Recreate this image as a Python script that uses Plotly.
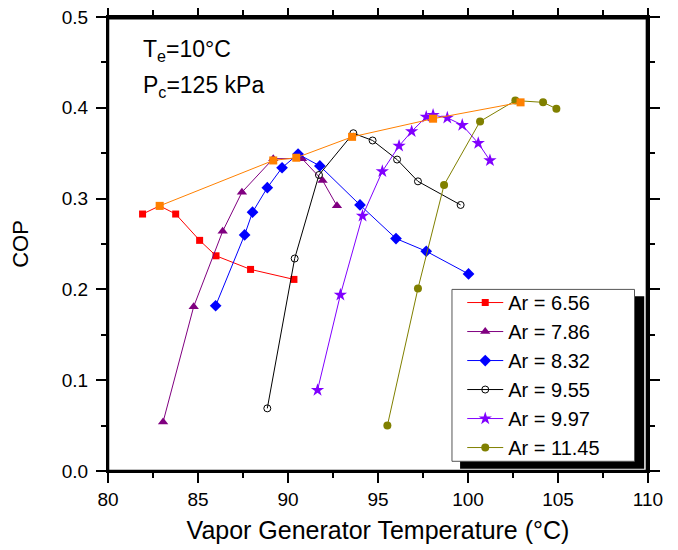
import plotly.graph_objects as go

# Data
x_656 = [81.92, 82.87, 83.76, 85.09, 86.00, 87.92, 90.33]
y_656 = [0.283, 0.292, 0.283, 0.254, 0.237, 0.222, 0.211]

x_786 = [83.06, 84.76, 86.37, 87.44, 89.18, 90.78, 91.92, 92.72]
y_786 = [0.054, 0.181, 0.264, 0.307, 0.344, 0.344, 0.320, 0.292]

x_832 = [85.98, 87.59, 88.03, 88.85, 89.67, 90.56, 91.77, 94.00, 96.00, 97.68, 100.03]
y_832 = [0.182, 0.260, 0.285, 0.312, 0.334, 0.349, 0.336, 0.293, 0.256, 0.242, 0.217]

x_955 = [88.85, 90.37, 91.72, 93.63, 94.70, 96.06, 97.22, 99.59]
y_955 = [0.069, 0.234, 0.326, 0.372, 0.364, 0.343, 0.319, 0.293]

x_997 = [91.64, 92.91, 94.14, 95.24, 96.17, 96.87, 97.68, 98.06, 98.85, 99.68, 100.57, 101.22]
y_997 = [0.089, 0.194, 0.281, 0.330, 0.358, 0.374, 0.390, 0.392, 0.389, 0.381, 0.361, 0.342]

x_1145 = [95.52, 97.22, 98.67, 100.67, 102.63, 104.17, 104.91]
y_1145 = [0.050, 0.201, 0.315, 0.385, 0.408, 0.406, 0.399]

x_max = [82.87, 89.18, 90.46, 93.56, 98.06, 102.92]
y_max = [0.292, 0.342, 0.345, 0.368, 0.388, 0.406]

x_ticks = [80, 85, 90, 95, 100, 105, 110]
y_ticks = [0.0, 0.1, 0.2, 0.3, 0.4, 0.5]

series = [
    ("Ar = 6.56", x_656, y_656, "#FF0000", "square", 7),
    ("Ar = 7.86", x_786, y_786, "#800080", "triangle-up", 9),
    ("Ar = 8.32", x_832, y_832, "#0000FF", "diamond", 9),
    ("Ar = 9.55", x_955, y_955, "#000000", "circle-open", 7),
    ("Ar = 9.97", x_997, y_997, "#8000FF", "star", 10),
    ("Ar = 11.45", x_1145, y_1145, "#808000", "circle", 8),
]

FONT = "Liberation Sans, Arial, sans-serif"

fig = go.Figure()
for name, xs, ys, col, sym, sz in series:
    fig.add_trace(go.Scatter(
        x=xs, y=ys, name=name, mode="lines+markers",
        line=dict(color=col, width=1),
        marker=dict(symbol=sym, size=sz, color=col,
                    line=dict(width=1, color=col) if sym == "circle-open" else dict(width=0)),
    ))

fig.add_trace(go.Scatter(
    x=x_max, y=y_max, mode="lines+markers", showlegend=False,
    line=dict(color="#FF8000", width=1),
    marker=dict(symbol="square", size=8, color="#FF8000"),
))

axis_common = dict(
    showgrid=False, zeroline=False, showline=True, linecolor="black",
    linewidth=2, mirror="allticks", ticks="outside", ticklen=10, tickwidth=2,
    tickcolor="black", tickfont=dict(family=FONT, size=19, color="black"),
    automargin=False, ticklabeloverflow="allow",
)

fig.update_xaxes(
    range=[80, 110], tickvals=x_ticks, ticktext=[str(v) for v in x_ticks],
    minor=dict(ticks="outside", ticklen=5, tickwidth=2, tickcolor="black", dtick=2.5),
    title=dict(text="Vapor Generator Temperature (°C)",
               font=dict(family=FONT, size=25, color="black"), standoff=13),
    ticklabelstandoff=0,
    **axis_common,
)
fig.update_yaxes(
    range=[0, 0.5], tickvals=y_ticks, ticktext=[f"{v:.1f}" for v in y_ticks],
    minor=dict(ticks="outside", ticklen=5, tickwidth=2, tickcolor="black", dtick=0.05),
    title=dict(text="COP", font=dict(family=FONT, size=22, color="black"), standoff=37),
    ticklabelstandoff=4,
    **axis_common,
)

# legend shadow and box
fig.add_shape(type="rect", xref="paper", yref="paper",
              x0=0.652, x1=0.993, y0=0.005, y1=0.385,
              fillcolor="black", line=dict(width=0), layer="below")
fig.add_shape(type="rect", xref="paper", yref="paper",
              x0=0.637, x1=0.975, y0=0.0214, y1=0.400,
              fillcolor="white", line=dict(width=1, color="#555555"), layer="below")
# plot frame: top and right edges (slightly inset)
fig.add_shape(type="rect", xref="paper", yref="paper", x0=0.0, x1=0.998, y0=0.0, y1=0.997,
              fillcolor="rgba(0,0,0,0)", line=dict(width=2.5, color="black"), layer="above")

fig.add_annotation(text="T<sub>e</sub>=10°C", xref="paper", yref="paper",
                   x=0.061, y=0.927, xanchor="left", yanchor="middle", showarrow=False,
                   font=dict(family=FONT, size=23, color="black"))
fig.add_annotation(text="P<sub>c</sub>=125 kPa", xref="paper", yref="paper",
                   x=0.061, y=0.848, xanchor="left", yanchor="middle", showarrow=False,
                   font=dict(family=FONT, size=23, color="black"))

fig.update_layout(
    width=678, height=550,
    margin=dict(l=100, r=38, t=9, b=87, autoexpand=False),
    paper_bgcolor="white", plot_bgcolor="white",
    legend=dict(x=0.656, y=0.414, xanchor="left", yanchor="top",
                bgcolor="rgba(0,0,0,0)", borderwidth=0,
                font=dict(family=FONT, size=20, color="black"),
                tracegroupgap=0, itemwidth=36),
    font=dict(family=FONT, color="black"),
)

fig.write_html("out.html")
